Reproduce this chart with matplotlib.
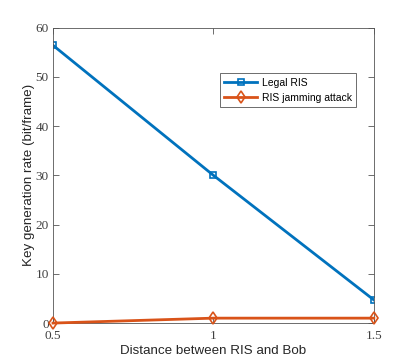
import matplotlib
matplotlib.use("Agg")
import matplotlib.pyplot as plt

distance = [0.5, 1.0, 1.5]
legal_ris = [56.4, 30.0, 4.7]
jamming = [0.0, 1.0, 1.0]

x_ticks = [0.5, 1, 1.5]
x_tick_labels = ["0.5", "1", "1.5"]
y_ticks = [0, 10, 20, 30, 40, 50, 60]

fig = plt.figure(figsize=(4.14, 3.63), dpi=100)
ax = fig.add_axes([0.128, 0.110, 0.775, 0.814])

ax.plot(distance, legal_ris, color="#0072BD", linewidth=2, marker="s",
        markersize=5, markerfacecolor="none", markeredgewidth=1.2, label="Legal RIS")
ax.plot(distance, jamming, color="#D95319", linewidth=2, marker="d",
        markersize=6, markerfacecolor="none", markeredgewidth=1.2,
        label="RIS jamming attack", clip_on=False, zorder=5)

ax.set_xlim(0.5, 1.5)
ax.set_ylim(0, 60)
ax.set_xticks(x_ticks)
ax.set_xticklabels(x_tick_labels)
ax.set_yticks(y_ticks)

for sp in ax.spines.values():
    sp.set_color("#555555")
    sp.set_linewidth(0.6)
ax.tick_params(direction="in", length=4, width=0.6, colors="#555555",
               labelcolor="#404040", top=True, right=True, labelsize=9.5)
ax.tick_params(axis="x", pad=5)
ax.tick_params(axis="y", pad=3)
for lbl in ax.get_xticklabels() + ax.get_yticklabels():
    lbl.set_family("Liberation Serif")

ax.set_xlabel("Distance between RIS and Bob", family="Liberation Sans",
              fontsize=9.6, color="#262626", labelpad=2)
ax.set_ylabel("Key generation rate (bit/frame)", family="Liberation Sans",
              fontsize=9.6, color="#262626", labelpad=0)

leg = ax.legend(loc="upper left", bbox_to_anchor=(0.52, 0.845),
                prop={"family": "Liberation Sans", "size": 7.5},
                fancybox=False, framealpha=1, edgecolor="#555555",
                borderpad=0.4, labelspacing=0.5, handlelength=3.2,
                handletextpad=0.4, borderaxespad=0)
leg.get_frame().set_linewidth(0.6)

fig.savefig("out.png", dpi=100)
